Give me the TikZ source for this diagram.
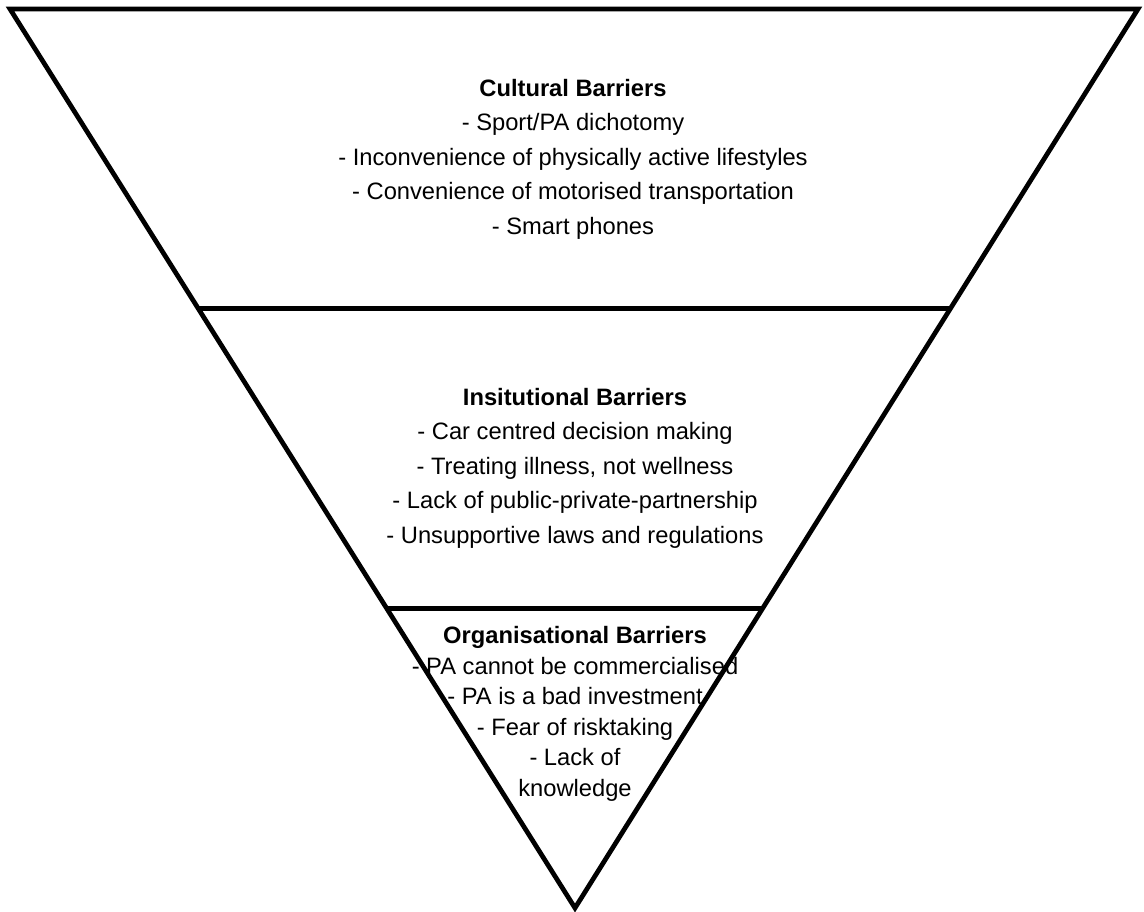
\documentclass[tikz,border=0pt]{standalone}
\usepackage{fontspec}
\setmainfont{Liberation Sans}
\usetikzlibrary{calc}
\tikzset{
	layer/.style={align=center, inner sep=0pt, font=\fontsize{13.5}{19.6}\selectfont},
	tightlayer/.style={layer, font=\fontsize{13.5}{17.4}\selectfont},
	barrier/.style={line width=2.7pt, line join=miter}
}
\begin{document}
\begin{tikzpicture}[x=0.02cm, y=-0.02cm]
	\useasboundingbox (0,0) rectangle (1144,912);

	% Inverted triangle
	\coordinate (tl) at (10,9);
	\coordinate (tr) at (1138,9);
	\coordinate (apex) at (575,908);
	\draw[barrier] (tl) -- (tr) -- (apex) -- cycle;

	% Dividing lines
	\coordinate (l1) at ($(tl)!1/3!(apex)$);
	\coordinate (r1) at ($(tr)!1/3!(apex)$);
	\coordinate (l2) at ($(tl)!2/3!(apex)$);
	\coordinate (r2) at ($(tr)!2/3!(apex)$);
	\draw[barrier] (l1) -- (r1);
	\draw[barrier] (l2) -- (r2);

	% Layer texts
	\node[layer] (cultural) at (573,159) {\textbf{Cultural Barriers}\\
		- Sport/PA dichotomy\\
		- Inconvenience of physically active lifestyles\\
		- Convenience of motorised transportation\\
		- Smart phones};
	\node[layer] (institutional) at (575,468) {\textbf{Insitutional Barriers}\\
		- Car centred decision making\\
		- Treating illness, not wellness\\
		- Lack of public-private-partnership\\
		- Unsupportive laws and regulations};
	\node[tightlayer] (organisational) at (575,714) {\textbf{Organisational Barriers}\\
		- PA cannot be commercialised\\
		- PA is a bad investment\\
		- Fear of risktaking\\
		- Lack of\\
		knowledge};
\end{tikzpicture}
\end{document}
